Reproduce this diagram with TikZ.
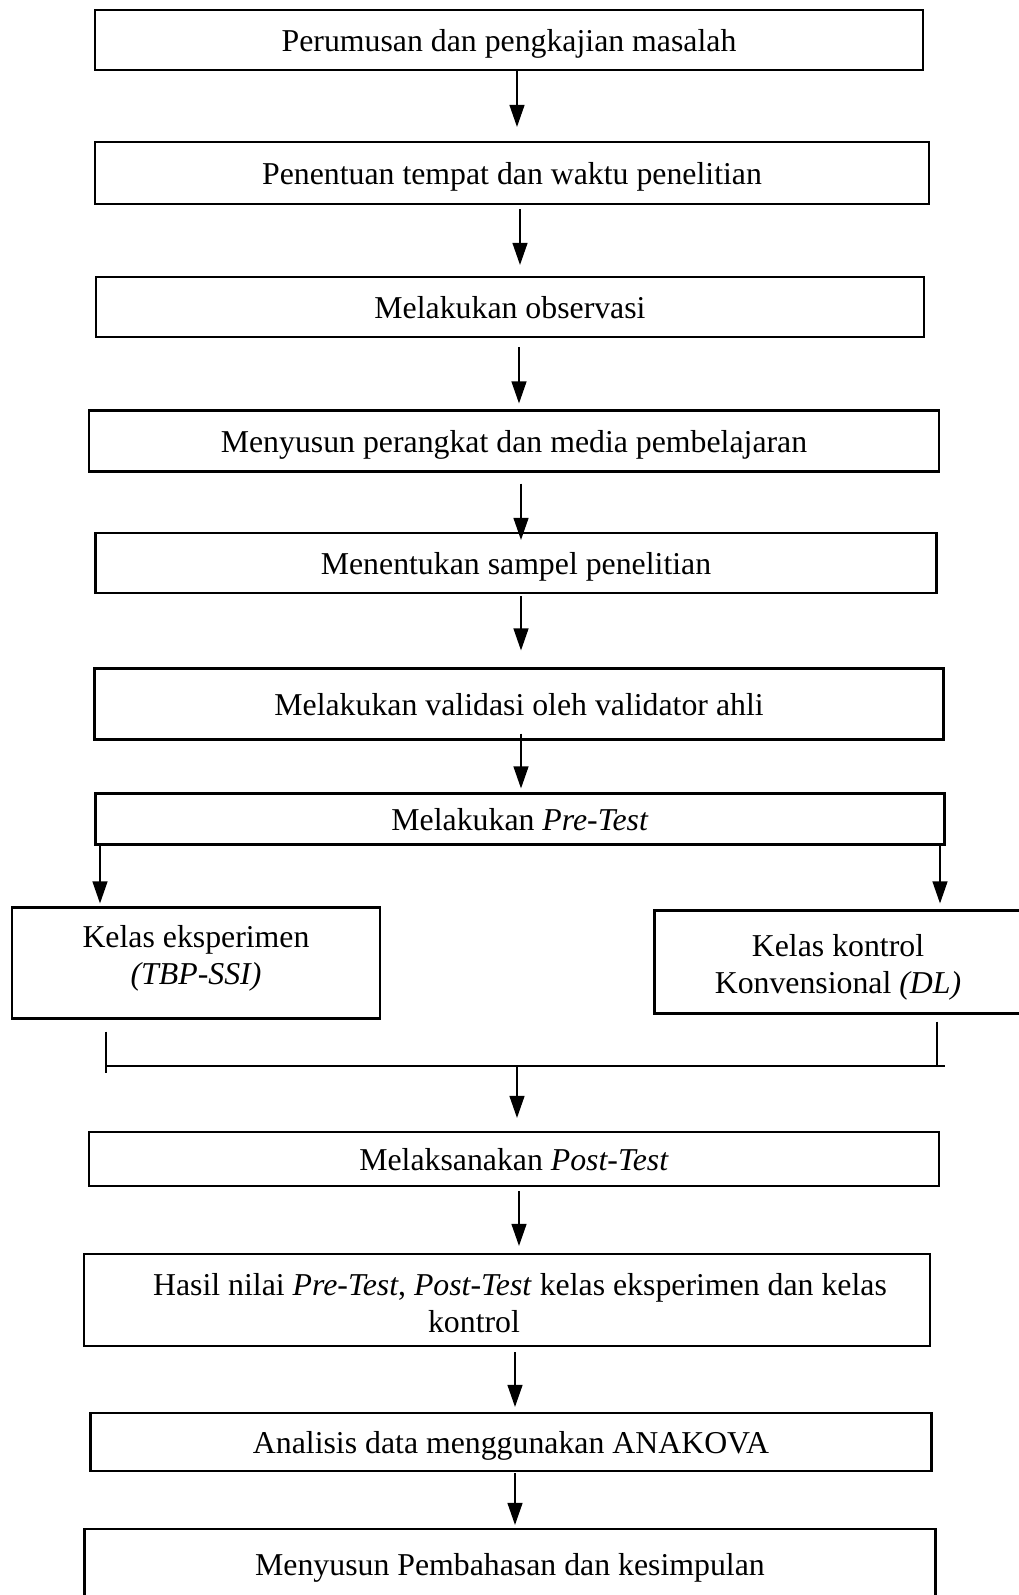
\documentclass[tikz,border=0pt]{standalone}
\usepackage{fontspec}
\setmainfont{Liberation Serif}
\usetikzlibrary{arrows.meta}
\usetikzlibrary{positioning}
\tikzset{
    stepbox/.style = {rectangle, draw=black, line width=2.2pt, align=center, inner sep=0pt, text height=30pt, text depth=7pt, font=\fontsize{31.8}{37}\selectfont},
    twobox/.style = {stepbox, text height={}, text depth={}},
    flowarrow/.style = {line width=1.2pt, -{Triangle[length=22pt,width=15pt]}},
    flowline/.style = {line width=1.2pt},
}

\begin{document}
\begin{tikzpicture}[x=1pt, y=-1pt]
  \useasboundingbox (0,0) rectangle (1019,1595);
  \node[stepbox, minimum width=828pt, minimum height=60pt] (rumus) at (509,40) {Perumusan dan pengkajian masalah};
  \node[stepbox, minimum width=834pt, minimum height=62pt] (tempat) at (512,173) {Penentuan tempat dan waktu penelitian};
  \node[stepbox, minimum width=828pt, minimum height=60pt] (obs) at (510,307) {Melakukan observasi};
  \node[stepbox, minimum width=850pt, minimum height=61pt] (susun) at (514,441) {Menyusun perangkat dan media pembelajaran};
  \node[stepbox, minimum width=841pt, minimum height=60pt] (sampel) at (516,563) {Menentukan sampel penelitian};
  \node[stepbox, minimum width=849pt, minimum height=71pt] (valid) at (519,704) {Melakukan validasi oleh validator ahli};
  \node[stepbox, minimum width=849pt, minimum height=51pt] (pre) at (520,819) {Melakukan \textit{Pre-Test}};
  \node[twobox, minimum width=368pt, minimum height=111pt] (ekspe) at (196,963) {Kelas eksperimen\\\textit{(TBP-SSI)}\rule[-16pt]{0pt}{0pt}};
  \node[twobox, minimum width=367pt, minimum height=103pt] (kontrol) at (838,962) {\rule{0pt}{32pt}Kelas kontrol\\Konvensional \textit{(DL)}};
  \node[stepbox, minimum width=850pt, minimum height=54pt] (post) at (514,1159) {Melaksanakan \textit{Post-Test}};
  \node[twobox, minimum width=846pt, minimum height=92pt] (hasil) at (507,1300) {\rule{0pt}{27.5pt}\hspace*{26pt}Hasil nilai \textit{Pre-Test}, \textit{Post-Test} kelas eksperimen dan kelas\\kontrol\hspace*{66pt}\null};
  \node[stepbox, minimum width=841pt, minimum height=58pt] (anakova) at (511,1442) {Analisis data menggunakan ANAKOVA};
  \node[stepbox, minimum width=851pt, minimum height=70pt] (bahas) at (510,1564) {Menyusun Pembahasan dan kesimpulan};

  % main line
  \foreach \a/\b/\x/\s/\e in {rumus/tempat/517/0/14, tempat/obs/520/4/11, obs/susun/519/9/6,
      susun/sampel/521/11/-8, sampel/valid/521/2/17, valid/pre/521/-7/4,
      post/hasil/519/4/7, hasil/anakova/515/5/5, anakova/bahas/515/1/3}
    \draw[flowarrow, shorten <=\s pt, shorten >=\e pt] (\x,0 |- \a.south) -- (\x,0 |- \b.north);

  % split into the two classes
  \draw[flowarrow, shorten >=3pt] (100,0 |- pre.south) -- (100,0 |- ekspe.north);
  \draw[flowarrow, shorten >=6pt] (940,0 |- pre.south) -- (940,0 |- kontrol.north);

  % join again
  \coordinate (joinL) at (106,1066);
  \coordinate (joinR) at (945,1066);
  \coordinate (joinM) at (517,1066);
  \draw[flowline, shorten <=12pt, shorten >=-7pt] (joinL |- ekspe.south) -- (joinL);
  \draw[flowline, shorten <=7pt] (937,0 |- kontrol.south) -- (937,0 |- joinR);
  \draw[flowline] (joinL) -- (joinR);
  \draw[flowarrow, shorten >=13pt] (joinM) -- (joinM |- post.north);
\end{tikzpicture}
\end{document}
